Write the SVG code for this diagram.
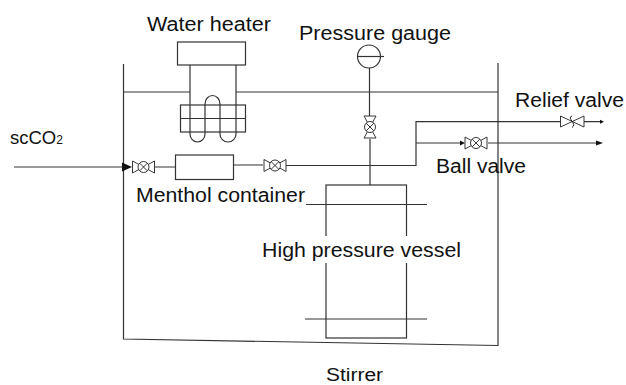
<svg xmlns="http://www.w3.org/2000/svg" width="626" height="385" viewBox="0 0 626 385">
<style>
.l{fill:none;stroke:#333;stroke-width:1.2}
.t{font-family:"Liberation Sans",Arial,sans-serif;font-size:20px;fill:#111}
.v{fill:#fff;stroke:#222;stroke-width:.9}
.a{fill:#111;stroke:none}
</style>
<defs>
<g id="valve"><path class="v" d="M-11,-6 L11,6 L11,-6 L-11,6 Z"/><circle class="v" r="5.500"/><path class="v" d="M-3.800,-3.800 L3.800,3.800 M-3.800,3.800 L3.800,-3.800"/></g>
</defs>
<rect width="626" height="385" fill="#fff"/>
<g id="connectors">
<path class="l" d="M123.500,64 V339 L498,345.500 V63"/>
<path class="l" d="M124,92 H190 M236,92 H498"/>
<path class="l" d="M14,167 H122 M155,167 H175.500 M233.500,165 H263 M286,165.500 H416 V121.700 H560 M584,121.700 H600 M416,143 H462 M488,143 H598"/>
<path class="l" d="M369.500,68 V117 M370,139 V185"/>
<path class="a" d="M122,162.500 L132,167 L122,171.500 Z M600,119.700 L604,121.700 L600,123.700 Z M460,140.500 L465,143 L460,145.500 Z M596,140.500 L603,143 L596,145.500 Z"/>
</g>
<g id="water-heater">
<rect class="l" x="177.500" y="42" width="68" height="23"/>
<rect class="l" x="180.500" y="105" width="65" height="27"/>
<path class="l" d="M180.500,118.500 H245.500"/>
<path class="l" d="M190,65 V134 A7.500,8 0 0 0 205,134 V104 A7.500,8.500 0 0 1 220,104 V134 A8,8 0 0 0 236,134 V65"/>
<text class="t" x="147" y="30.500" textLength="124" lengthAdjust="spacingAndGlyphs">Water heater</text>
</g>
<g id="menthol-container">
<rect class="l" x="175.500" y="155" width="58" height="24.500"/>
<text class="t" x="136" y="202" textLength="169" lengthAdjust="spacingAndGlyphs">Menthol container</text>
</g>
<g id="inlet-valve"><use href="#valve" x="143.500" y="167"/></g>
<g id="outlet-valve"><use href="#valve" x="275" y="165.500"/></g>
<g id="scco2"><text class="t" x="10" y="144" style="font-size:18.500px">scCO<tspan font-size="12">2</tspan></text></g>
<g id="pressure-gauge">
<circle class="l" cx="369" cy="56.500" r="11.500"/>
<path class="l" d="M357.500,56.500 H384"/>
<use href="#valve" transform="translate(370,127) rotate(90)"/>
<text class="t" x="299" y="40" textLength="152" lengthAdjust="spacingAndGlyphs">Pressure gauge</text>
</g>
<g id="relief-valve">
<path class="v" d="M560.500,116 L584,127 V116 L560.500,127 Z"/>
<path fill="none" stroke="#222" d="M572,116 C566,118 578,124 572,127.500"/>
<text class="t" x="515" y="106.500" textLength="109" lengthAdjust="spacingAndGlyphs">Relief valve</text>
</g>
<g id="ball-valve">
<use href="#valve" x="476" y="143"/>
<text class="t" x="436" y="172.500" textLength="90" lengthAdjust="spacingAndGlyphs">Ball valve</text>
</g>
<g id="high-pressure-vessel">
<rect class="l" x="326" y="185" width="80.500" height="153"/>
<path class="l" d="M306,204.500 H427 M305,319 H427"/>
<rect x="262" y="236" width="199" height="27" fill="#fff"/>
<text class="t" x="262" y="257" textLength="199" lengthAdjust="spacingAndGlyphs">High pressure vessel</text>
</g>
<g id="stirrer"><text class="t" x="326" y="381" style="font-size:18px" textLength="57" lengthAdjust="spacingAndGlyphs">Stirrer</text></g>
</svg>
